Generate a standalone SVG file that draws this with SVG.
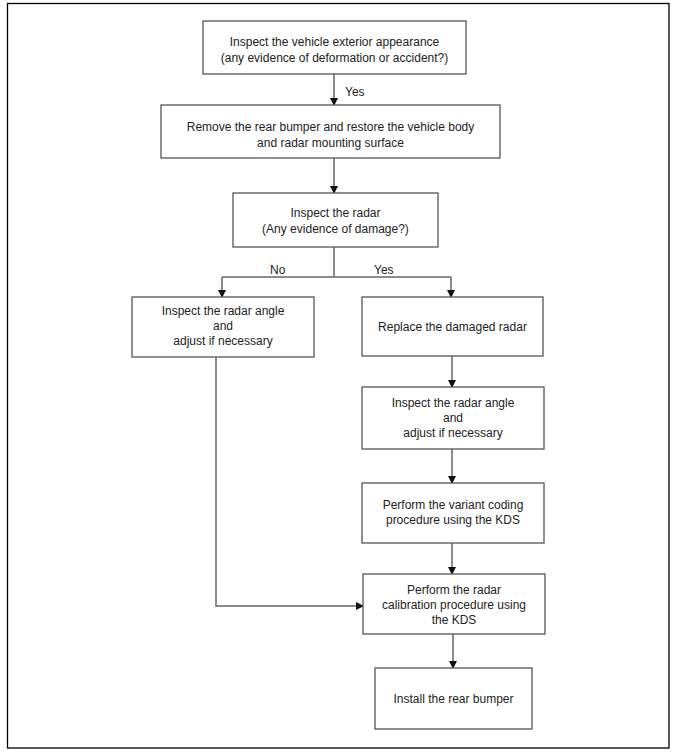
<svg xmlns="http://www.w3.org/2000/svg" width="676" height="753" viewBox="0 0 676 753">
<style>
.box{fill:#fff;stroke:#555;stroke-width:1.3}
.t{font-family:"Liberation Sans",Arial,sans-serif;font-size:12px;fill:#222;text-anchor:middle}
.l{font-family:"Liberation Sans",Arial,sans-serif;font-size:12px;fill:#222}
.c{fill:none;stroke:#666;stroke-width:1.5}
</style>
<defs>
<marker id="ah" markerWidth="8" markerHeight="8" refX="7" refY="4" orient="auto" markerUnits="userSpaceOnUse">
<path d="M0,0 L8,4 L0,8 Z" fill="#111"/>
</marker>
</defs>
<rect x="7.5" y="3.5" width="661.5" height="744.5" fill="#fff" stroke="#000" stroke-width="1.3"/>
<g id="connectors">
<line class="c" x1="334" y1="74" x2="334" y2="105" marker-end="url(#ah)"/>
<line class="c" x1="334" y1="158" x2="334" y2="193" marker-end="url(#ah)"/>
<polyline class="c" points="334,247 334,277"/>
<polyline class="c" points="222,277 451,277"/>
<line class="c" x1="222" y1="277" x2="222" y2="297" marker-end="url(#ah)"/>
<line class="c" x1="451" y1="277" x2="451" y2="297" marker-end="url(#ah)"/>
<polyline class="c" points="216,357 216,606 363,606" marker-end="url(#ah)"/>
<line class="c" x1="452" y1="356" x2="452" y2="387" marker-end="url(#ah)"/>
<line class="c" x1="452" y1="449" x2="452" y2="483" marker-end="url(#ah)"/>
<line class="c" x1="452" y1="543" x2="452" y2="574" marker-end="url(#ah)"/>
<line class="c" x1="453" y1="634" x2="453" y2="668" marker-end="url(#ah)"/>
<text class="l" x="345" y="96">Yes</text>
<text class="l" x="270" y="274">No</text>
<text class="l" x="374" y="274">Yes</text>
</g>
<g id="n1">
<rect class="box" x="203" y="21" width="263" height="53"/>
<text class="t" x="334.5" y="46">Inspect the vehicle exterior appearance</text>
<text class="t" x="334.5" y="62">(any evidence of deformation or accident?)</text>
</g>
<g id="n2">
<rect class="box" x="161" y="105" width="339" height="53"/>
<text class="t" x="330.5" y="131">Remove the rear bumper and restore the vehicle body</text>
<text class="t" x="330.5" y="147">and radar mounting surface</text>
</g>
<g id="n3">
<rect class="box" x="233" y="193" width="205" height="54"/>
<text class="t" x="335.5" y="217">Inspect the radar</text>
<text class="t" x="335.5" y="233">(Any evidence of damage?)</text>
</g>
<g id="n4">
<rect class="box" x="132" y="297" width="182" height="60"/>
<text class="t" x="223" y="315">Inspect the radar angle</text>
<text class="t" x="223" y="330">and</text>
<text class="t" x="223" y="345">adjust if necessary</text>
</g>
<g id="n5">
<rect class="box" x="362" y="297" width="181" height="59"/>
<text class="t" x="452.5" y="331">Replace the damaged radar</text>
</g>
<g id="n6">
<rect class="box" x="362" y="387" width="182" height="62"/>
<text class="t" x="453" y="407">Inspect the radar angle</text>
<text class="t" x="453" y="422">and</text>
<text class="t" x="453" y="437">adjust if necessary</text>
</g>
<g id="n7">
<rect class="box" x="362" y="483" width="182" height="60"/>
<text class="t" x="453" y="509">Perform the variant coding</text>
<text class="t" x="453" y="524">procedure using the KDS</text>
</g>
<g id="n8">
<rect class="box" x="363" y="574" width="182" height="60"/>
<text class="t" x="454" y="594">Perform the radar</text>
<text class="t" x="454" y="609">calibration procedure using</text>
<text class="t" x="454" y="624">the KDS</text>
</g>
<g id="n9">
<rect class="box" x="375" y="668" width="157" height="61"/>
<text class="t" x="453.5" y="703">Install the rear bumper</text>
</g>
</svg>
